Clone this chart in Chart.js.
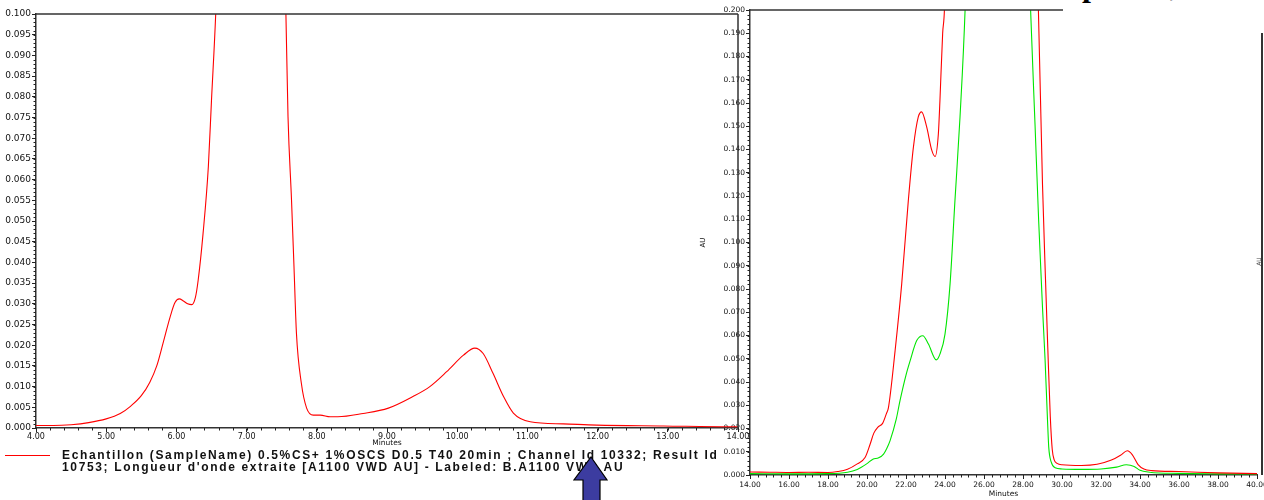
<!DOCTYPE html>
<html lang="fr">
<head>
  <meta charset="UTF-8" />
  <title>Chromatogrammes A1100 VWD</title>
  <script src="https://cdn.jsdelivr.net/npm/chart.js"></script>
  <style>
    html, body { margin: 0; padding: 0; background: #fff; }
    body { width: 1264px; height: 500px; position: relative; overflow: hidden; font-family: "Liberation Sans", Arial, sans-serif; }
    .abs { position: absolute; }
    #wrapR { left: 690px; top: 0; }
    #wrapL { left: 0; top: 0; }
    #legendLine { left: 5px; top: 455px; width: 45px; height: 1px; background: #ff0000; }
    #legendText { left: 62px; top: 450px; font-weight: bold; font-size: 12px; line-height: 11.5px; letter-spacing: 1.65px; color: #111; white-space: nowrap; }
    #cover { left: 1063px; top: 0; width: 201px; height: 33px; background: #fff; }
    #edge { left: 1261px; top: 33px; width: 1.5px; height: 442px; background: #333; }
    #edgeLabel { left: 1254px; top: 258px; font-size: 6px; color: #444; transform: rotate(-90deg); font-family: "DejaVu Sans"; }
    .glyph { top: -33px; font-family: "Liberation Serif", serif; font-weight: bold; font-size: 32px; color: #000; }
    svg { position: absolute; left: 0; top: 0; }
  </style>
</head>
<body>
  <div id="wrapR" class="abs"><canvas id="rightChart" width="590" height="500"></canvas></div>
  <div id="wrapL" class="abs"><canvas id="leftChart" width="760" height="450"></canvas></div>

  <div id="cover" class="abs"></div>
  <div id="edge" class="abs"></div>
  <div id="edgeLabel" class="abs">AU</div>
  <div class="abs glyph" style="left:1082px">p</div>
  <div class="abs glyph" style="left:1170px">,</div>

  <div id="legendLine" class="abs"></div>
  <div id="legendText" class="abs">Echantillon (SampleName) 0.5%CS+ 1%OSCS D0.5 T40 20min ; Channel Id 10332; Result Id<br>10753; Longueur d'onde extraite [A1100 VWD AU] - Labeled: B.A1100 VWD AU</div>

  <svg width="1264" height="500">
    <polygon points="591,457 607,480 600,480 600,501 583,501 583,480 574,480" fill="#3c3ca0" stroke="#000" stroke-width="1.2" />
  </svg>

  <script>
    // left chromatogram (4 - 14 min), AU
    const leftTime = [4.00, 4.25, 4.50, 4.75, 5.00, 5.20, 5.35, 5.50, 5.62, 5.72, 5.81, 5.91, 5.98, 6.04, 6.10, 6.16, 6.22, 6.27, 6.31, 6.38, 6.455, 6.50, 6.56, 6.62, 6.80, 7.10, 7.40, 7.50, 7.56, 7.59, 7.64, 7.675, 7.71, 7.78, 7.855, 7.95, 8.05, 8.19, 8.30, 8.66, 9.02, 9.37, 9.61, 9.85, 10.09, 10.25, 10.37, 10.51, 10.66, 10.80, 11.04, 11.51, 11.99, 12.94, 13.89, 14.00];
    const leftRed = [0.0006, 0.0006, 0.0008, 0.0013, 0.0022, 0.0035, 0.0053, 0.0078, 0.0110, 0.0150, 0.0205, 0.0268, 0.0303, 0.0312, 0.0307, 0.0300, 0.0298, 0.0315, 0.0357, 0.0470, 0.0631, 0.0792, 0.1000, 0.1300, 0.2500, 0.3000, 0.2200, 0.1400, 0.1000, 0.0752, 0.0550, 0.0390, 0.0229, 0.0108, 0.0048, 0.0031, 0.0031, 0.0027, 0.0027, 0.0035, 0.0048, 0.0076, 0.0100, 0.0136, 0.0176, 0.0193, 0.0180, 0.0132, 0.0076, 0.0036, 0.0015, 0.0010, 0.0007, 0.0005, 0.0003, 0.0003];

    // right chromatogram (14 - 40 min), two traces
    const rightRedTime = [14.0, 15.0, 16.0, 17.0, 18.0, 18.5, 19.0, 19.5, 19.9, 20.15, 20.35, 20.55, 20.8, 21.0, 21.1, 21.44, 21.78, 22.12, 22.38, 22.63, 22.80, 23.06, 23.32, 23.49, 23.66, 23.74, 23.88, 23.97, 24.2, 26.0, 28.5, 28.79, 29.0, 29.15, 29.27, 29.40, 29.5, 29.6, 29.75, 30.0, 31.0, 31.8, 32.5, 33.0, 33.35, 33.6, 33.9, 34.2, 34.6, 36.0, 38.0, 40.0];
    const rightRed = [0.0013, 0.0012, 0.0011, 0.0012, 0.0011, 0.0015, 0.0025, 0.0048, 0.0075, 0.0130, 0.0180, 0.0205, 0.0222, 0.0265, 0.0290, 0.0534, 0.0822, 0.1181, 0.1410, 0.1540, 0.1562, 0.1497, 0.1397, 0.1370, 0.1468, 0.1610, 0.1900, 0.2000, 0.2800, 0.5000, 0.2800, 0.2000, 0.1250, 0.0850, 0.0550, 0.0250, 0.0110, 0.0065, 0.0050, 0.0044, 0.0041, 0.0046, 0.0063, 0.0085, 0.0104, 0.0088, 0.0045, 0.0026, 0.0019, 0.0015, 0.0009, 0.0006];
    const rightGreenTime = [14.0, 16.0, 18.0, 19.0, 19.5, 20.0, 20.3, 20.6, 20.85, 21.0, 21.18, 21.5, 21.69, 22.0, 22.21, 22.55, 22.86, 23.15, 23.55, 23.74, 24.0, 24.26, 24.51, 24.77, 25.03, 25.3, 27.0, 28.1, 28.39, 28.62, 28.80, 29.0, 29.13, 29.25, 29.32, 29.45, 29.65, 30.0, 31.0, 32.0, 32.8, 33.3, 33.7, 34.0, 34.5, 36.0, 38.0, 40.0];
    const rightGreen = [0.0006, 0.0005, 0.0006, 0.0012, 0.0024, 0.0049, 0.0068, 0.0074, 0.0090, 0.0112, 0.0147, 0.0240, 0.0319, 0.0430, 0.0491, 0.0578, 0.0599, 0.0563, 0.0495, 0.0520, 0.0606, 0.0822, 0.1180, 0.1540, 0.2000, 0.2800, 0.4500, 0.2800, 0.2000, 0.1500, 0.1100, 0.0720, 0.0500, 0.0250, 0.0120, 0.0055, 0.0031, 0.0026, 0.0024, 0.0026, 0.0034, 0.0044, 0.0037, 0.0020, 0.0012, 0.0007, 0.0005, 0.0004];

    const leftRange = { xMin: 4, xMax: 14, xStep: 1, xMinor: 0.2, yMin: 0, yMax: 0.1, yStep: 0.005, yMinor: 0.001 };
    const rightRange = { xMin: 14, xMax: 40, xStep: 2, xMinor: 0.4, yMin: 0, yMax: 0.2, yStep: 0.01, yMinor: 0.002 };

    const pts = (xs, ys) => xs.map((x, i) => ({ x: x, y: ys[i] }));

    // small ticks between the labelled ones
    const minorTicks = {
      id: 'minorTicks',
      afterDraw(chart, args, opts) {
        const ctx = chart.ctx, xs = chart.scales.x, ys = chart.scales.y;
        ctx.save();
        ctx.strokeStyle = '#222';
        ctx.lineWidth = 1;
        ctx.beginPath();
        const nx = Math.round((xs.max - xs.min) / opts.x);
        for (let i = 0; i <= nx; i++) {
          const px = Math.round(xs.getPixelForValue(xs.min + i * opts.x)) + 0.5;
          ctx.moveTo(px, xs.top);
          ctx.lineTo(px, xs.top + 2.5);
        }
        const ny = Math.round((ys.max - ys.min) / opts.y);
        for (let i = 0; i <= ny; i++) {
          const py = Math.round(ys.getPixelForValue(ys.min + i * opts.y)) + 0.5;
          ctx.moveTo(ys.right - 2.5, py);
          ctx.lineTo(ys.right, py);
        }
        ctx.stroke();
        ctx.restore();
      }
    };

    // top / right frame lines of the plot area
    const frame = {
      id: 'frame',
      afterDraw(chart, args, opts) {
        const ctx = chart.ctx, a = chart.chartArea;
        ctx.save();
        ctx.strokeStyle = '#333';
        ctx.lineWidth = 1.5;
        ctx.beginPath();
        ctx.moveTo(a.left, a.top);
        ctx.lineTo(opts.topEnd || a.right, a.top);
        if (opts.right) {
          ctx.moveTo(a.right, a.top);
          ctx.lineTo(a.right, a.bottom);
        }
        ctx.stroke();
        ctx.restore();
      }
    };

    function xAxis(r, size, h, titlePad, lblPad) {
      return {
        type: 'linear', min: r.xMin, max: r.xMax,
        ticks: { stepSize: r.xStep, autoSkip: false, maxRotation: 0, padding: lblPad, color: '#111',
                 font: { family: 'DejaVu Sans', size: size }, callback: v => Number(v).toFixed(2) },
        grid: { drawOnChartArea: false, tickLength: 4, tickColor: '#222', tickWidth: 1 },
        border: { color: '#333', width: 1.5 },
        title: { display: true, text: 'Minutes', color: '#111', font: { family: 'DejaVu Sans', size: 7.5 },
                 padding: { top: 0, bottom: titlePad } },
        afterFit: s => { s.height = h; }
      };
    }

    function yAxis(r, size, w, title) {
      return {
        type: 'linear', min: r.yMin, max: r.yMax,
        ticks: { stepSize: r.yStep, autoSkip: false, padding: 1, color: '#111',
                 font: { family: 'DejaVu Sans', size: size }, callback: v => Number(v).toFixed(3) },
        grid: { drawOnChartArea: false, tickLength: 4, tickColor: '#222', tickWidth: 1 },
        border: { color: '#333', width: 1.5 },
        title: title ? { display: true, text: title, color: '#111', font: { family: 'DejaVu Sans', size: 7 },
                         padding: { top: 9, bottom: 0 } } : { display: false },
        afterFit: s => { s.width = w; }
      };
    }

    const lineStyle = { pointRadius: 0, borderWidth: 1.1, cubicInterpolationMode: 'monotone', fill: false };

    new Chart(document.getElementById('leftChart'), {
      type: 'line',
      data: { datasets: [Object.assign({ label: 'B.A1100 VWD AU', data: pts(leftTime, leftRed), borderColor: '#ff0000' }, lineStyle)] },
      options: {
        responsive: false, animation: false,
        layout: { padding: { left: 0, right: 22, top: 14, bottom: 0 } },
        plugins: { legend: { display: false }, tooltip: { enabled: false },
                   minorTicks: { x: leftRange.xMinor, y: leftRange.yMinor },
                   frame: { right: true } },
        scales: { x: xAxis(leftRange, 8, 22, 2.5, 0), y: yAxis(leftRange, 9, 36, null) }
      },
      plugins: [minorTicks, frame]
    });

    new Chart(document.getElementById('rightChart'), {
      type: 'line',
      data: { datasets: [
        Object.assign({ label: 'rouge', data: pts(rightRedTime, rightRed), borderColor: '#ff0000' }, lineStyle),
        Object.assign({ label: 'vert', data: pts(rightGreenTime, rightGreen), borderColor: '#00e600' }, lineStyle)
      ] },
      options: {
        responsive: false, animation: false,
        layout: { padding: { left: 0, right: 23, top: 10, bottom: 0 } },
        plugins: { legend: { display: false }, tooltip: { enabled: false },
                   minorTicks: { x: rightRange.xMinor, y: rightRange.yMinor },
                   frame: { right: false, topEnd: 373 } },
        scales: { x: xAxis(rightRange, 7.5, 25, 1.5, 2), y: yAxis(rightRange, 7.5, 60, 'AU') }
      },
      plugins: [minorTicks, frame]
    });
  </script>
</body>
</html>
